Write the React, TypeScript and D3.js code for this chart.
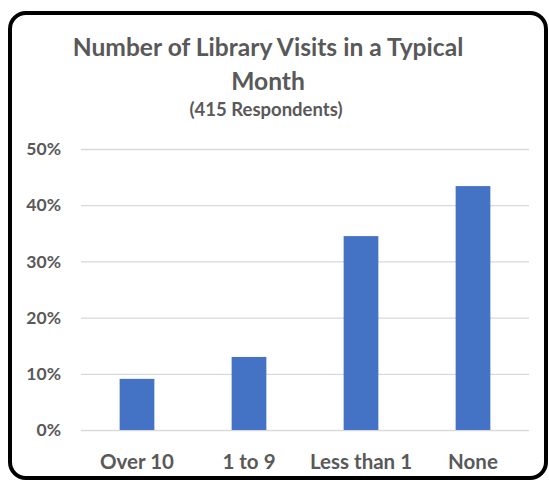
import React, { useRef, useEffect } from 'react'
import * as d3 from 'd3'

const categories = ['Over 10', '1 to 9', 'Less than 1', 'None']
const visitShares = [9.1, 13.0, 34.5, 43.4]
const yTicks = [0, 10, 20, 30, 40, 50]
const titleLines = ['Number of Library Visits in a Typical', 'Month']
const subtitle = '(415 Respondents)'

const width = 549
const height = 483
const margin = { top: 149, right: 20, bottom: 53, left: 81 }
const font = 'Lato, Calibri, sans-serif'
const textColor = '#595959'

const App = () => {
  const svgRef = useRef<SVGSVGElement>(null)

  useEffect(() => {
    const svg = d3.select(svgRef.current)
    svg.selectAll('*').remove()

    const x = d3
      .scaleBand()
      .domain(categories)
      .range([margin.left, width - margin.right])
      .paddingInner(0.69)
      .paddingOuter(0.345)

    const y = d3
      .scaleLinear()
      .domain([0, 50])
      .range([height - margin.bottom, margin.top])

    // frame
    svg
      .append('rect')
      .attr('x', 10)
      .attr('y', 13)
      .attr('width', 536)
      .attr('height', 465)
      .attr('rx', 16)
      .attr('fill', 'white')
      .attr('stroke', 'black')
      .attr('stroke-width', 4)

    // gridlines + y labels
    const yAxis = g =>
      g
        .attr('transform', `translate(${margin.left},0)`)
        .call(
          d3
            .axisLeft(y)
            .tickValues(yTicks)
            .tickSize(-(width - margin.left - margin.right))
            .tickPadding(20)
            .tickFormat(d => `${d}%`)
        )
        .call(g => g.select('.domain').remove())
        .call(g => g.selectAll('.tick line').attr('stroke', '#d9d9d9').attr('stroke-width', 1.3))
        .call(g =>
          g
            .selectAll('.tick text')
            .attr('fill', textColor)
            .attr('font-family', font)
            .attr('font-size', 17.5)
            .attr('font-weight', 'bold')
        )

    svg.append('g').call(yAxis)

    svg
      .append('g')
      .selectAll('rect')
      .data(visitShares)
      .join('rect')
      .attr('x', (d, i) => x(categories[i]))
      .attr('y', d => y(d))
      .attr('width', x.bandwidth())
      .attr('height', d => y(0) - y(d))
      .attr('fill', '#4472c4')

    svg
      .append('g')
      .selectAll('text')
      .data(categories)
      .join('text')
      .attr('x', d => x(d) + x.bandwidth() / 2)
      .attr('y', 469)
      .attr('text-anchor', 'middle')
      .attr('fill', textColor)
      .attr('font-family', font)
      .attr('font-size', 20.5)
      .attr('font-weight', 'bold')
      .text(d => d)

    svg
      .append('g')
      .selectAll('text')
      .data(titleLines)
      .join('text')
      .attr('x', 268)
      .attr('y', (d, i) => 56 + i * 34)
      .attr('text-anchor', 'middle')
      .attr('fill', textColor)
      .attr('font-family', font)
      .attr('font-size', 24.6)
      .attr('font-weight', 'bold')
      .text(d => d)

    svg
      .append('text')
      .attr('x', 266)
      .attr('y', 116)
      .attr('text-anchor', 'middle')
      .attr('fill', textColor)
      .attr('font-family', font)
      .attr('font-size', 18.5)
      .attr('font-weight', 'bold')
      .text(subtitle)
  }, [])

  return (
    <svg
      ref={svgRef}
      width={width}
      height={height}
      viewBox={`0,0,${width},${height}`}
      style={{ position: 'absolute', left: 0, top: 0 }}
    />
  )
}

export default App
